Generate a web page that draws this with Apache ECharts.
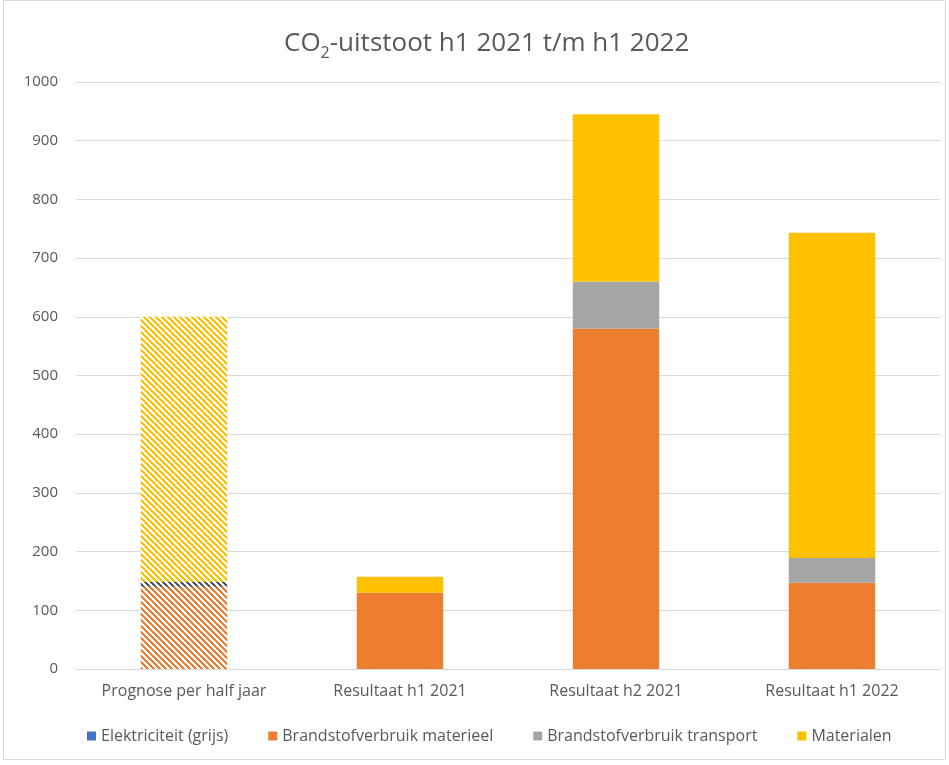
<!DOCTYPE html>
<html>
<head>
<meta charset="utf-8">
<script src="https://cdn.jsdelivr.net/npm/echarts@6/dist/echarts.min.js"></script>
<style>
  html, body { margin: 0; padding: 0; background: #fff; }
  #chart { width: 949px; height: 765px; }
</style>
</head>
<body>
<div id="chart"></div>
<script>
// CO2 emissions per half year, stacked by source
const categories = ['Prognose per half jaar', 'Resultaat h1 2021', 'Resultaat h2 2021', 'Resultaat h1 2022'];
const legendNames = ['Elektriciteit (grijs)', 'Brandstofverbruik materieel', 'Brandstofverbruik transport', 'Materialen'];
const elektriciteit = [8, 0, 0, 0];
const brandstofMaterieel = [140, 130, 580, 147];
const brandstofTransport = [0, 0, 80, 42];
const materialen = [452, 27, 285, 554];
const yTicks = [0, 100, 200, 300, 400, 500, 600, 700, 800, 900, 1000];

// stacking order from the axis upwards
const stackOrder = [
  { name: 'Brandstofverbruik materieel', values: brandstofMaterieel, color: '#ED7D31', hatch: '#ED7D31' },
  { name: 'Elektriciteit (grijs)', values: elektriciteit, color: '#4472C4', hatch: '#4e5564' },
  { name: 'Brandstofverbruik transport', values: brandstofTransport, color: '#A5A5A5', hatch: '#A5A5A5' },
  { name: 'Materialen', values: materialen, color: '#FFC000', hatch: '#FFC000' }
];

// diagonal "\" stripe tile drawn pixel by pixel
function stripeTile(color) {
  const size = 6;
  const c = document.createElement('canvas');
  c.width = size; c.height = size;
  const ctx = c.getContext('2d');
  ctx.fillStyle = '#ffffff';
  ctx.fillRect(0, 0, size, size);
  ctx.fillStyle = color;
  for (let y = 0; y < size; y++) {
    for (let x = 0; x < size; x++) {
      const d = ((x - y) % size + size) % size;
      if (d < 3) ctx.fillRect(x, y, 1, 1);
    }
  }
  return { image: c, repeat: 'repeat' };
}

const series = stackOrder.map(s => ({
  name: s.name,
  type: 'bar',
  stack: 'totaal',
  barCategoryGap: '60%',
  itemStyle: { color: s.color },
  emphasis: { disabled: true },
  data: s.values.map((v, j) => j === 0
    ? { value: v, itemStyle: { color: stripeTile(s.hatch) } }
    : v)
}));

const font = '"Open Sans", "Noto Sans", sans-serif';
const chart = echarts.init(document.getElementById('chart'), null, { renderer: 'canvas' });
chart.setOption({
  animation: false,
  backgroundColor: '#ffffff',
  textStyle: { fontFamily: font },
  graphic: [{
    type: 'rect',
    shape: { x: 3.5, y: 0.5, width: 942, height: 759 },
    style: { fill: 'none', stroke: '#d9d9d9', lineWidth: 1 },
    silent: true
  }],
  title: {
    text: '{a|CO}{s|2}{a|-uitstoot h1 2021 t/m h1 2022}',
    left: 279,
    top: 22,
    textStyle: {
      rich: {
        a: { fontSize: 26, fontWeight: 'normal', color: '#595959', fontFamily: font, lineHeight: 34, verticalAlign: 'middle' },
        s: { fontSize: 16, fontWeight: 'normal', color: '#595959', fontFamily: font, lineHeight: 34, verticalAlign: 'bottom' }
      }
    }
  },
  grid: { left: 76, right: 9, top: 82, bottom: 96, containLabel: false },
  legend: {
    bottom: 16,
    left: 82,
    itemWidth: 9,
    itemHeight: 9,
    itemGap: 40,
    icon: 'rect',
    textStyle: { fontSize: 16, color: '#595959', fontFamily: font },
    data: legendNames
  },
  xAxis: {
    type: 'category',
    data: categories,
    axisLine: { lineStyle: { color: '#d9d9d9' } },
    axisTick: { show: false },
    axisLabel: { color: '#595959', fontSize: 16, margin: 14, fontFamily: font }
  },
  yAxis: {
    type: 'value',
    min: yTicks[0],
    max: yTicks[yTicks.length - 1],
    interval: 100,
    axisLine: { show: false },
    axisTick: { show: false },
    splitLine: { lineStyle: { color: '#d9d9d9' } },
    axisLabel: { color: '#595959', fontSize: 15, margin: 18, fontFamily: font, formatter: v => String(v) }
  },
  series: series
});
</script>
</body>
</html>
